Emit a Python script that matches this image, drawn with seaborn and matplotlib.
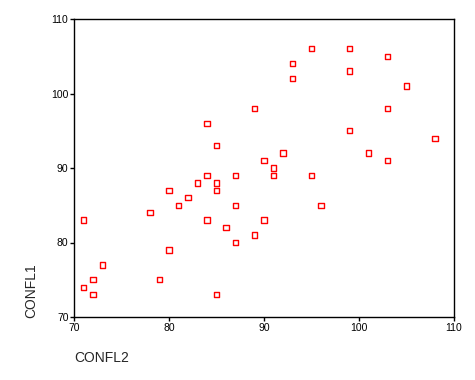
import matplotlib
matplotlib.use("Agg")
import matplotlib.pyplot as plt
import seaborn as sns
import pandas as pd

confl2 = [71, 71, 72, 72, 73, 78, 79, 80, 80, 81, 82, 83, 84, 84, 85, 85, 85, 86, 87, 87, 87, 89,
          84, 85, 89, 95, 99, 103, 93, 99, 93, 105, 103, 99, 108, 92, 101, 90, 103, 91, 91, 95, 96, 90]
confl1 = [83, 74, 75, 73, 77, 84, 75, 87, 79, 85, 86, 88, 89, 83, 88, 87, 73, 82, 89, 85, 80, 81,
          96, 93, 98, 106, 106, 105, 104, 103, 102, 101, 98, 95, 94, 92, 92, 91, 91, 90, 89, 89, 85, 83]
x_ticks = [70, 80, 90, 100, 110]
y_ticks = [70, 80, 90, 100, 110]

sns.set_style("white")
plt.rcParams['font.family'] = ['Liberation Sans', 'DejaVu Sans']

df = pd.DataFrame({"CONFL2": confl2, "CONFL1": confl1})

fig = plt.figure(figsize=(4.75, 3.8), dpi=100)
ax = fig.add_axes([74/475, 1 - 317/380, (454-74)/475, (317-19)/380])
sns.scatterplot(data=df, x="CONFL2", y="CONFL1", ax=ax, marker="s", s=15,
                facecolor="none", edgecolor="#ff0000", linewidth=1.0)
ax.set_xlim(70, 110)
ax.set_ylim(70, 110)
ax.set_xticks(x_ticks)
ax.set_yticks(y_ticks)
ax.tick_params(axis="both", direction="out", length=3, width=1, labelsize=7.5, pad=1,
               bottom=True, left=True, colors="black")
for sp in ax.spines.values():
    sp.set_color("black")
    sp.set_linewidth(1.0)
ax.set_xlabel("")
ax.set_ylabel("")
fig.text(74/475, 1 - 358/380, "CONFL2", ha="left", va="center", fontsize=10)
fig.text(31/475, 1 - 318/380, "CONFL1", ha="center", va="bottom", rotation=90, fontsize=10)
fig.savefig("out.png", dpi=100, facecolor="white")
